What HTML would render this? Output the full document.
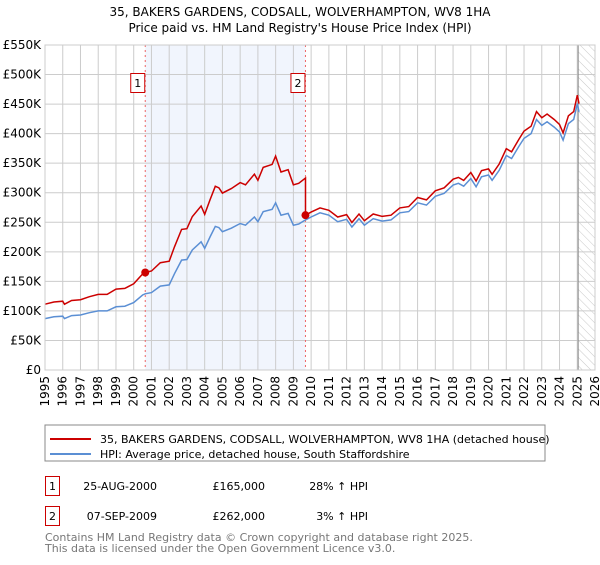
<!DOCTYPE html>
<html><head><meta charset="utf-8"><style>
body{margin:0;background:#fff;font-family:"Liberation Sans","DejaVu Sans",sans-serif}
svg text{font-family:"DejaVu Sans","Liberation Sans",sans-serif}
</style></head><body>
<svg id="c" width="600" height="560" xmlns="http://www.w3.org/2000/svg">
<defs><pattern id="hatch" width="6" height="6" patternUnits="userSpaceOnUse" patternTransform="rotate(-45)"><line x1="0" y1="0" x2="0" y2="6" stroke="#bbb" stroke-width="0.8"/></pattern></defs>
<text x="300" y="16" text-anchor="middle" font-size="12">35, BAKERS GARDENS, CODSALL, WOLVERHAMPTON, WV8 1HA</text>
<text x="300" y="32" text-anchor="middle" font-size="12">Price paid vs. HM Land Registry's House Price Index (HPI)</text>
<g id="plot"></g>
<rect x="45" y="425" width="500" height="36" fill="#fff" stroke="#888"/>
<line x1="50" y1="439" x2="91" y2="439" stroke="#cc0000" stroke-width="2"/>
<text x="100" y="443" font-size="11">35, BAKERS GARDENS, CODSALL, WOLVERHAMPTON, WV8 1HA (detached house)</text>
<line x1="50" y1="454" x2="91" y2="454" stroke="#5b8fd4" stroke-width="2"/>
<text x="100" y="458" font-size="11">HPI: Average price, detached house, South Staffordshire</text>
<g>
<rect x="45.5" y="476.5" width="14" height="19" fill="#fff" stroke="#cc0000"/>
<text x="52.5" y="490" font-size="11" text-anchor="middle">1</text>
<text x="157" y="490" font-size="11" text-anchor="end">25-AUG-2000</text>
<text x="265" y="490" font-size="11" text-anchor="end">£165,000</text>
<text x="368" y="490" font-size="11" text-anchor="end">28% ↑ HPI</text></g>
<g>
<rect x="45.5" y="506.5" width="14" height="19" fill="#fff" stroke="#cc0000"/>
<text x="52.5" y="520" font-size="11" text-anchor="middle">2</text>
<text x="157" y="520" font-size="11" text-anchor="end">07-SEP-2009</text>
<text x="265" y="520" font-size="11" text-anchor="end">£262,000</text>
<text x="368" y="520" font-size="11" text-anchor="end">3% ↑ HPI</text></g>
<text x="45" y="541" font-size="11" fill="#777">Contains HM Land Registry data © Crown copyright and database right 2025.</text>
<text x="45" y="552" font-size="11" fill="#777">This data is licensed under the Open Government Licence v3.0.</text>
</svg>
<script>
const hpiYears=[1995,1995.5,1996,1996.1,1996.5,1997,1997.5,1998,1998.5,1999,1999.5,2000,2000.5,2000.65,2001,2001.5,2002,2002.3,2002.7,2003,2003.3,2003.8,2004,2004.3,2004.6,2004.8,2005,2005.5,2006,2006.3,2006.8,2007,2007.3,2007.8,2008,2008.3,2008.7,2009,2009.3,2009.68,2010,2010.5,2011,2011.5,2012,2012.3,2012.7,2013,2013.5,2014,2014.5,2015,2015.5,2016,2016.5,2017,2017.5,2018,2018.3,2018.6,2019,2019.3,2019.6,2020,2020.2,2020.6,2021,2021.3,2021.7,2022,2022.4,2022.7,2023,2023.3,2023.7,2024,2024.2,2024.5,2024.8,2025,2025.1];
const hpiValues=[87,90,91,87,92,93,97,100,100,107,108,114,127,129,131,142,144,163,186,187,203,217,206,225,243,241,234,240,248,245,259,251,268,272,283,262,265,245,247,254,259,266,262,251,255,242,256,245,256,252,254,266,268,283,279,294,299,313,316,311,324,310,327,330,321,338,363,358,378,392,400,424,414,420,411,403,389,417,424,451,437];
const saleYears=[2000.65,2009.68];
const salePrices=[165,262];
const saleLabels=["1","2"];
const yTicks=[0,50,100,150,200,250,300,350,400,450,500,550];
const xTicks=[1995,1996,1997,1998,1999,2000,2001,2002,2003,2004,2005,2006,2007,2008,2009,2010,2011,2012,2013,2014,2015,2016,2017,2018,2019,2020,2021,2022,2023,2024,2025,2026];
const dataEnd=2025.05;
const NS="http://www.w3.org/2000/svg";
const L=45,R=595,T=45,B=370;
const x=v=>L+(v-1995)/(2026-1995)*(R-L);
const y=v=>B-v/550*(B-T);
const g=document.getElementById('plot');
function mk(t,a,p){const e=document.createElementNS(NS,t);for(const k in a)e.setAttribute(k,a[k]);(p||g).appendChild(e);return e;}
let e=mk('rect',{x:x(saleYears[0]),y:T,width:x(saleYears[1])-x(saleYears[0]),height:B-T,fill:'#eef3fd',opacity:0.8});


e=mk('rect',{x:x(dataEnd),y:T,width:R-x(dataEnd),height:B-T,fill:'url(#hatch)'});


yTicks.forEach(v=>{let l=mk('line',{x1:L,x2:R,y1:y(v),y2:y(v),stroke:'#ccc'});


let t=mk('text',{x:41,y:y(v)+4,'text-anchor':'end','font-size':12});t.textContent=v===0?'£0':'£'+v+'K';

});
xTicks.forEach(v=>{let l=mk('line',{x1:x(v),x2:x(v),y1:T,y2:B,stroke:'#ccc'});


let t=mk('text',{x:0,y:0,'text-anchor':'end','font-size':12,transform:`translate(${x(v)+4},${B+6}) rotate(-90)`});t.textContent=v;

});
e=mk('line',{x1:x(dataEnd),x2:x(dataEnd),y1:T,y2:B,stroke:'#888','stroke-width':1});


function hpiAt(t){for(let i=1;i<hpiYears.length;i++){if(t<=hpiYears[i]){const f=(t-hpiYears[i-1])/(hpiYears[i]-hpiYears[i-1]);return hpiValues[i-1]+f*(hpiValues[i]-hpiValues[i-1]);}}return hpiValues[hpiValues.length-1];}
const f1=salePrices[0]/hpiAt(saleYears[0]),f2=salePrices[1]/hpiAt(saleYears[1]);
let hp='',rp='';
hpiYears.forEach((t,i)=>{hp+=(i?'L':'M')+x(t).toFixed(1)+','+y(hpiValues[i]).toFixed(1);});
hpiYears.forEach((t,i)=>{const fac=t<saleYears[1]?f1:f2;if(t>=saleYears[1]&&rp.indexOf('J')<0){rp+='L'+x(saleYears[1]).toFixed(1)+','+y(hpiAt(saleYears[1])*f1).toFixed(1)+'J';}
rp+=(i?'L':'M')+x(t).toFixed(1)+','+y(hpiValues[i]*fac).toFixed(1);});
rp=rp.replace('J','');
saleYears.forEach((t,i)=>{let l=mk('line',{x1:x(t),x2:x(t),y1:T,y2:B,stroke:'#e66','stroke-dasharray':'2,3'});

});
e=mk('path',{d:hp,fill:'none',stroke:'#5b8fd4','stroke-width':1.5});


e=mk('path',{d:rp,fill:'none',stroke:'#cc0000','stroke-width':1.5});


saleYears.forEach((t,i)=>{let c=mk('circle',{cx:x(t),cy:y(salePrices[i]),r:4,fill:'#cc0000'});


let b=mk('rect',{x:x(t)-14.5,y:73.5,width:14,height:19,fill:'#fff',stroke:'#cc0000'});


let tx=mk('text',{x:x(t)-7.5,y:87,'text-anchor':'middle','font-size':11});tx.textContent=saleLabels[i];

});
e=mk('rect',{x:L,y:T,width:R-L,height:B-T,fill:'none',stroke:'#ccc'});


</script>
</body></html>
